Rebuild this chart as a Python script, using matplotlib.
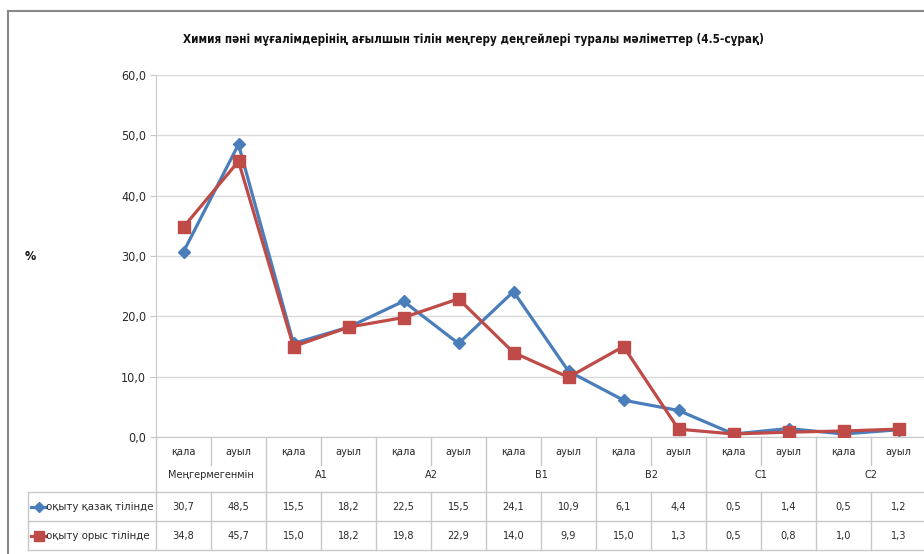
import matplotlib
matplotlib.use("Agg")
import matplotlib.pyplot as plt
import matplotlib.transforms as mtransforms
from matplotlib.lines import Line2D

plt.rcParams['font.family'] = ['DejaVu Sans']
plt.rcParams['font.stretch'] = 'condensed'

title = "Химия пәні мұғалімдерінің ағылшын тілін меңгеру деңгейлері туралы мәліметтер (4.5-сұрақ)"
levels = ['Меңгермегенмін', 'A1', 'A2', 'B1', 'B2', 'C1', 'C2']
subcats = ['қала', 'ауыл']
series_names = ['оқыту қазақ тілінде', 'оқыту орыс тілінде']
kazakh = [30.7, 48.5, 15.5, 18.2, 22.5, 15.5, 24.1, 10.9, 6.1, 4.4, 0.5, 1.4, 0.5, 1.2]
russian = [34.8, 45.7, 15.0, 18.2, 19.8, 22.9, 14.0, 9.9, 15.0, 1.3, 0.5, 0.8, 1.0, 1.3]
yticks = [0, 10, 20, 30, 40, 50, 60]

W, H = 924, 554
fig = plt.figure(figsize=(W / 100, H / 100), dpi=100)
ax_l, ax_b, ax_t = 156, 437, 75
col_w = 55
ncol = len(kazakh)
ax_r = ax_l + col_w * ncol
ax = fig.add_axes([ax_l / W, 1 - ax_b / H, (ax_r - ax_l) / W, (ax_b - ax_t) / H])

blue = '#4A7EBB'
red = '#BE4B48'
grid_c = '#D9D9D9'
tbl_c = '#C8C8C8'
txt_c = '#2A2A2A'

x = list(range(ncol))
ax.plot(x, kazakh, color=blue, lw=2.3, marker='D', ms=6.5, mec=blue, mfc=blue, zorder=3)
ax.plot(x, russian, color=red, lw=2.3, marker='s', ms=8.5, mec=red, mfc=red, zorder=4)

ax.set_xlim(-0.5, ncol - 0.5)
ax.set_ylim(0, 60)
ax.set_yticks(yticks)
ax.set_yticklabels([f"{v:.1f}".replace('.', ',') for v in yticks], fontsize=9, color=txt_c)
ax.yaxis.grid(True, color=grid_c, lw=1)
ax.set_axisbelow(True)
ax.set_xticks([])
for s in ['top', 'right']:
    ax.spines[s].set_visible(False)
ax.spines['left'].set_color(tbl_c)
ax.spines['bottom'].set_color(tbl_c)
ax.tick_params(axis='y', length=4, color=tbl_c, pad=3)

fig.text(473.5 / W, 1 - 40 / H, title, ha='center', va='center', fontsize=8.4, fontweight='bold', color='#111111')
fig.text(30 / W, 1 - 257 / H, '%', ha='center', va='center', fontsize=9, fontweight='bold', color='#111111')

tr = mtransforms.blended_transform_factory(ax.transData, ax.transAxes)
hpx = ax_b - ax_t


def ya(py):
    return (ax_b - py) / hpx


def xd(px):
    return -0.5 + (px - ax_l) / col_w


def hline(x0, x1, py):
    ax.add_line(Line2D([x0, x1], [ya(py), ya(py)], transform=tr, color=tbl_c, lw=1, clip_on=False))


def vline(xx, py0, py1):
    ax.add_line(Line2D([xx, xx], [ya(py0), ya(py1)], transform=tr, color=tbl_c, lw=1, clip_on=False))


y_cat, y_grp, y_r1, y_r2 = 452, 475, 507, 536
l_row0, l_row1, l_row2 = 492, 521, 550
fs = 7.8

for i in range(ncol):
    ax.text(i, ya(y_cat), subcats[i % 2], transform=tr, ha='center', va='center', fontsize=fs, color=txt_c, clip_on=False)
    ax.text(i, ya(y_r1), f"{kazakh[i]:.1f}".replace('.', ','), transform=tr, ha='center', va='center', fontsize=fs, color=txt_c, clip_on=False)
    ax.text(i, ya(y_r2), f"{russian[i]:.1f}".replace('.', ','), transform=tr, ha='center', va='center', fontsize=fs, color=txt_c, clip_on=False)
    vline(i - 0.5, l_row0, l_row2)
    if i % 2 == 1:
        vline(i - 0.5, ax_b, 465)
    else:
        vline(i - 0.5, ax_b, l_row0)
vline(ncol - 0.5, ax_b, l_row2)
for g, name in enumerate(levels):
    ax.text(2 * g + 0.5, ya(y_grp), name, transform=tr, ha='center', va='center', fontsize=fs, color=txt_c, clip_on=False)

x_leg = xd(28)
for py in (l_row0, l_row1, l_row2):
    hline(x_leg, ncol - 0.5, py)
vline(x_leg, l_row0, l_row2)

for py, col, mk, ms, name in ((y_r1, blue, 'D', 5, series_names[0]), (y_r2, red, 's', 6.5, series_names[1])):
    ax.add_line(Line2D([xd(31), xd(46)], [ya(py), ya(py)], transform=tr, color=col, lw=2.3, clip_on=False))
    ax.add_line(Line2D([xd(39)], [ya(py)], transform=tr, color=col, marker=mk, ms=ms, mec=col, mfc=col, clip_on=False))
    ax.text(xd(46), ya(py), name, transform=tr, ha='left', va='center', fontsize=8.2, color=txt_c, clip_on=False)

fig.add_artist(Line2D([8 / W, 8 / W], [1 - 11 / H, 0], transform=fig.transFigure, color='#888888', lw=1.5))
fig.add_artist(Line2D([8 / W, 1], [1 - 11 / H, 1 - 11 / H], transform=fig.transFigure, color='#888888', lw=1.5))

fig.savefig('out.png', dpi=100)
